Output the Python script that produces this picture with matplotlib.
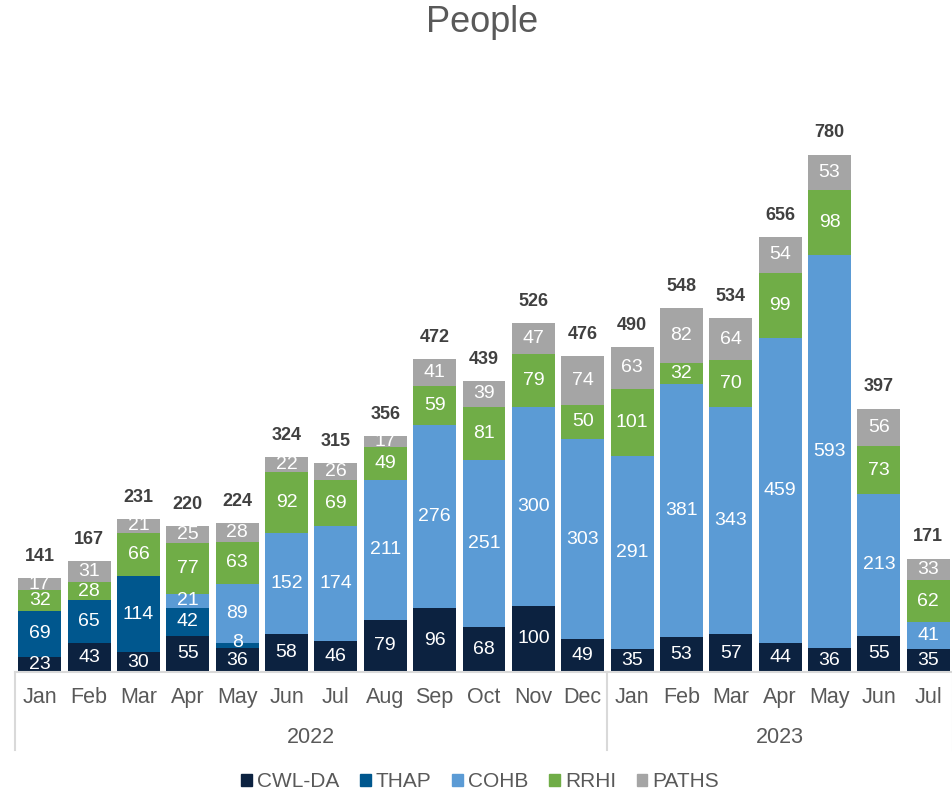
import matplotlib.pyplot as plt
import numpy as np
from matplotlib.lines import Line2D
from matplotlib.patches import Patch

plt.rcParams['font.family'] = ['Liberation Sans', 'DejaVu Sans']

# --- Data ---
months = ['Jan', 'Feb', 'Mar', 'Apr', 'May', 'Jun', 'Jul', 'Aug', 'Sep', 'Oct', 'Nov', 'Dec',
          'Jan', 'Feb', 'Mar', 'Apr', 'May', 'Jun', 'Jul']
years = ['2022', '2023']
year_counts = [12, 7]

cwl_da = [23, 43, 30, 55, 36, 58, 46, 79, 96, 68, 100, 49, 35, 53, 57, 44, 36, 55, 35]
thap = [69, 65, 114, 42, 8, 0, 0, 0, 0, 0, 0, 0, 0, 0, 0, 0, 0, 0, 0]
cohb = [0, 0, 0, 21, 89, 152, 174, 211, 276, 251, 300, 303, 291, 381, 343, 459, 593, 213, 41]
rrhi = [32, 28, 66, 77, 63, 92, 69, 49, 59, 81, 79, 50, 101, 32, 70, 99, 98, 73, 62]
paths = [17, 31, 21, 25, 28, 22, 26, 17, 41, 39, 47, 74, 63, 82, 64, 54, 53, 56, 33]

series_names = ['CWL-DA', 'THAP', 'COHB', 'RRHI', 'PATHS']
series_vals = [cwl_da, thap, cohb, rrhi, paths]
colors = ['#0C2240', '#00578E', '#5B9BD5', '#70AD47', '#A5A5A5']

# --- Figure ---
fig = plt.figure(figsize=(9.53, 7.92), dpi=100)
ax = fig.add_axes([15 / 953, 120 / 792, 938 / 953, 597 / 792])

x = np.arange(len(months))
bottom = np.zeros(len(months))
for name, vals, col in zip(series_names, series_vals, colors):
    vals = np.array(vals)
    ax.bar(x, vals, 0.87, bottom=bottom, color=col, label=name)
    for xi, v, b in zip(x, vals, bottom):
        if v > 0:
            # tiny segment label sits a bit higher, like the original
            yoff = 4 if v < 12 else 0
            ax.text(xi, b + v / 2 + yoff, str(v), ha='center', va='center',
                    color='white', fontsize=14)
    bottom += vals

# totals above bars
for xi, t in zip(x, bottom):
    ax.text(xi, t + 20, str(int(t)), ha='center', va='bottom',
            fontsize=13, fontweight='bold', color='#404040')

ax.set_xlim(-0.5, len(months) - 0.5)
ax.set_ylim(0, 900)
ax.set_yticks([])
ax.set_xticks([])
for s in ['top', 'right', 'left']:
    ax.spines[s].set_visible(False)
ax.spines['bottom'].set_color('#D9D9D9')
ax.spines['bottom'].set_linewidth(1.5)

# --- Two-level x axis ---
trans = ax.get_xaxis_transform()
for xi, m in zip(x, months):
    ax.text(xi, -0.042, m, transform=trans, ha='center', va='center',
            fontsize=15.5, color='#595959')

start = 0
edges = [-0.5]
for yr, n in zip(years, year_counts):
    ax.text(start + (n - 1) / 2, -0.109, yr, transform=trans, ha='center',
            va='center', fontsize=15.5, color='#595959')
    start += n
    edges.append(start - 0.5)
for e in edges:
    ax.add_line(Line2D([e, e], [0, -0.13], transform=trans, color='#D9D9D9',
                       linewidth=1.5, clip_on=False))

# --- Title and legend ---
fig.text(0.506, 0.972, 'People', ha='center', va='center', fontsize=26, color='#595959')

handles = [Patch(color=c, label=n) for n, c in zip(series_names, colors)]
fig.legend(handles=handles, loc='center', bbox_to_anchor=(0.504, 0.013), ncol=5,
           frameon=False, fontsize=15, handlelength=0.5, handleheight=0.5,
           handletextpad=0.25, columnspacing=1.0, labelcolor='#595959',
           borderpad=0)

fig.savefig('out.png', dpi=100)
